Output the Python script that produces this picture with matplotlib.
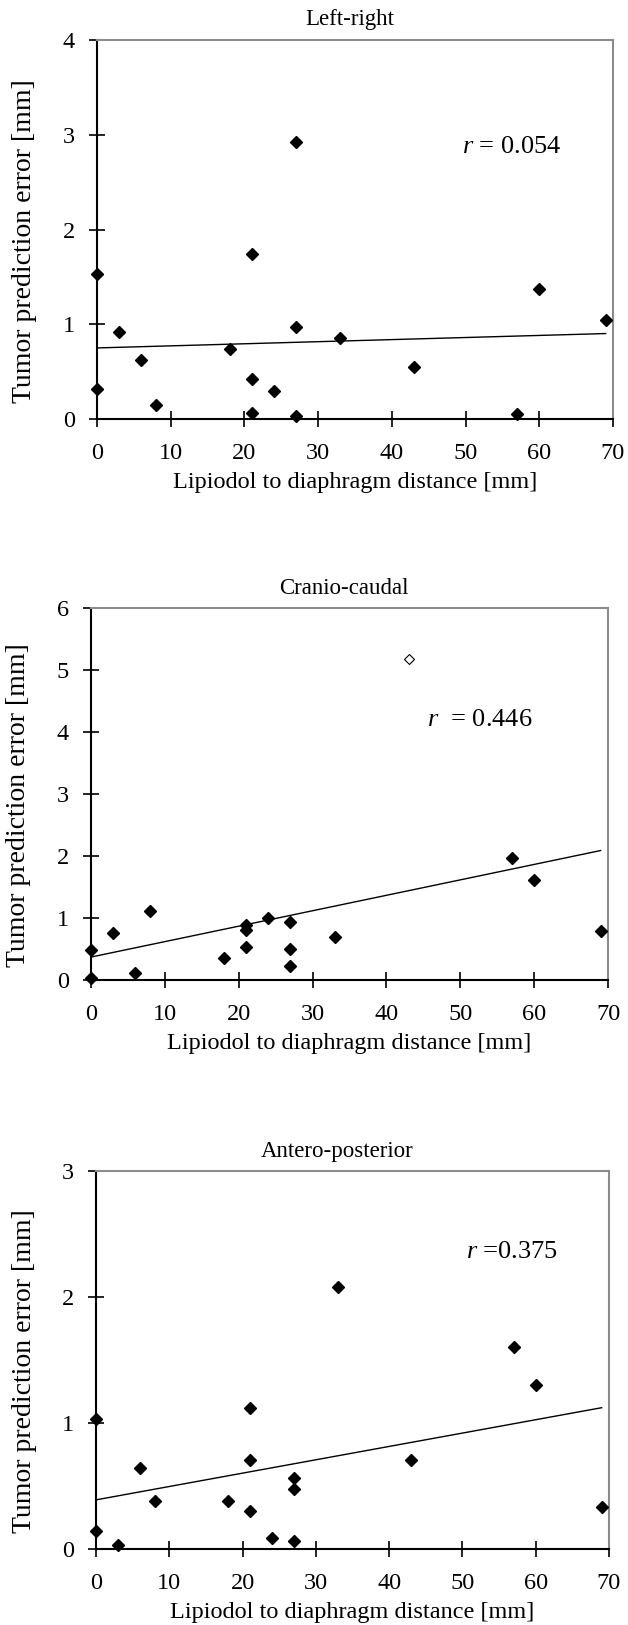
import numpy as np
import matplotlib
matplotlib.use('Agg')
import matplotlib.pyplot as plt


# Data
# ************************
distance = [0, 0, 3, 6, 8, 18, 21, 21, 21, 24, 27, 27, 27, 33, 43, 57, 60, 69]

lr_error = [1.53, 0.32, 0.92, 0.62, 0.15, 0.74, 1.74, 0.42, 0.06,
            0.30, 2.92, 0.97, 0.03, 0.85, 0.55, 0.05, 1.37, 1.05]
cc_error = [0.49, 0.03, 0.76, 0.12, 1.12, 0.36, 0.88, 0.81, 0.53,
            1.00, 0.94, 0.50, 0.22, 0.69, 5.18, 1.97, 1.61, 0.79]
ap_error = [1.03, 0.14, 0.03, 0.64, 0.38, 0.38, 1.12, 0.71, 0.30,
            0.09, 0.56, 0.48, 0.06, 2.08, 0.71, 1.60, 1.30, 0.33]

cc_outlier = 14                     # index of the hollow (excluded) point

# trend lines: (intercept, slope)
lr_trend = (0.75, 0.0022)
cc_trend = (0.37, 0.0249)
ap_trend = (0.39, 0.0106)

titles = ['Left-right', 'Cranio-caudal', 'Antero-posterior']
r_labels = ['$r$ = 0.054', '$r$  = 0.446', '$r$ =0.375']
r_pos = [(49.5, 2.87), (45.5, 4.19), (50.5, 2.36)]
y_max = [4, 6, 3]
x_ticks = list(range(0, 71, 10))


# Style
# *****
plt.rcParams['font.family'] = ['Liberation Serif', 'DejaVu Serif']
plt.rcParams['font.size'] = 17.5
plt.rcParams['mathtext.fontset'] = 'custom'
plt.rcParams['mathtext.rm'] = 'Liberation Serif'
plt.rcParams['mathtext.it'] = 'Liberation Serif:italic'

fig = plt.figure(figsize=(6.28, 16.25), dpi=100)

# axes boxes in pixels: left, top, right, bottom
boxes = [(97, 40, 613, 419), (91, 608, 608, 980), (96, 1171, 609, 1549)]
title_x = [0.49, 0.49, 0.47]
W, H = 628, 1625

series = [lr_error, cc_error, ap_error]
trends = [lr_trend, cc_trend, ap_trend]

for i in range(3):
    l, t, r, b = boxes[i]
    ax = fig.add_axes([l / W, (H - b) / H, (r - l) / W, (b - t) / H])

    x = np.array(distance, dtype=float)
    y = np.array(series[i], dtype=float)
    filled = np.ones(len(x), dtype=bool)
    if i == 1:
        filled[cc_outlier] = False

    ax.plot(x[filled], y[filled], 'D', color='black', markersize=6,
            clip_on=False, zorder=3)
    if not filled.all():
        ax.plot(x[~filled], y[~filled], 'D', markerfacecolor='white',
                markeredgecolor='black', markeredgewidth=0.8, markersize=5.4,
                clip_on=False, zorder=3)

    a, s = trends[i]
    xt = np.array([min(distance), max(distance)])
    ax.plot(xt, a + s * xt, color='black', linewidth=1.0, zorder=2)

    ax.set_xlim(0, 70)
    ax.set_ylim(0, y_max[i])
    ax.set_xticks(x_ticks)
    ax.set_yticks(range(0, y_max[i] + 1))

    for side in ['left', 'bottom']:
        ax.spines[side].set_linewidth(1.5)
        ax.spines[side].set_color('black')
    for side in ['top', 'right']:
        ax.spines[side].set_linewidth(1.5)
        ax.spines[side].set_color('#8c8c8c')

    ax.tick_params(direction='inout', length=12, width=1.2, color='black')
    ax.tick_params(axis='x', pad=11)
    ax.tick_params(axis='y', pad=10)

    ax.text(title_x[i], 1 + 20 / (b - t), titles[i], transform=ax.transAxes,
            ha='center', va='center', fontsize=16.5)
    ax.set_ylabel('Tumor prediction error [mm]', fontsize=20, va='center')
    ax.yaxis.set_label_coords(-0.14, 0.47)
    ax.set_xlabel('Lipiodol to diaphragm distance [mm]', labelpad=6)

    ax.text(r_pos[i][0], r_pos[i][1], r_labels[i], ha='left', va='center',
            fontsize=19)

fig.savefig('out.png', dpi=100)
